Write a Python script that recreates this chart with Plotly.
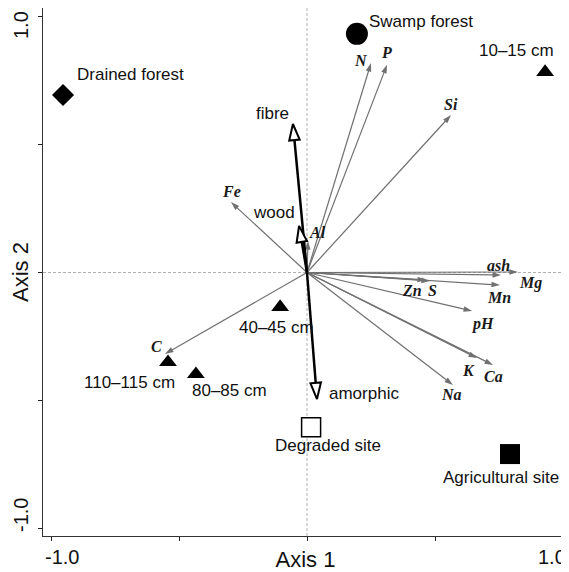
import plotly.graph_objects as go

# ---------------- data ----------------
site_names = ["Drained forest", "Swamp forest", "Degraded site", "Agricultural site"]
site_x = [-0.953, 0.195, 0.016, 0.793]
site_y = [0.693, 0.932, -0.604, -0.709]

depth_names = ["10–15 cm", "40–45 cm", "80–85 cm", "110–115 cm"]
depth_x = [0.930, -0.105, -0.434, -0.543]
depth_y = [0.783, -0.135, -0.397, -0.350]

peat_names = ["fibre", "wood", "amorphic"]
peat_x = [-0.055, -0.031, 0.039]
peat_y = [0.580, 0.182, -0.494]

chem_names = ["N", "P", "Si", "Al", "Fe", "C", "ash", "Mg", "Mn", "Zn", "S", "pH", "K", "Ca", "Na"]
chem_x = [0.250, 0.3125, 0.5625, 0.004, -0.297, -0.555, 0.824, 0.758, 0.754, 0.465, 0.480, 0.645, 0.664, 0.727, 0.570]
chem_y = [0.818, 0.811, 0.615, 0.123, 0.275, -0.318, 0.002, -0.010, -0.049, -0.029, -0.033, -0.150, -0.334, -0.361, -0.439]

axis_ticks = [-1.0, -0.5, 0.0, 0.5, 1.0]

# ---------------- styling / label placement ----------------
GRAY = "#707070"
SANS = "Liberation Sans, Arial, sans-serif"
SERIF = "Liberation Serif, Times New Roman, serif"

site_label_off = {  # (xshift, yshift, xanchor)
    "Drained forest": (12, 21, "left"),
    "Swamp forest": (10, 12, "left"),
    "Degraded site": (17, -18, "center"),
    "Agricultural site": (-9, -23, "center"),
}
depth_label_off = {
    "10–15 cm": (-29, 22, "center"),
    "40–45 cm": (-4, -20, "center"),
    "80–85 cm": (34, -16, "center"),
    "110–115 cm": (-38, -20, "center"),
}
peat_label_off = {
    "fibre": (-20, 11, "center"),
    "wood": (-25, 13, "center"),
    "amorphic": (10, 6, "left"),
}
chem_label_off = {
    "N": (-10, 3), "P": (-1, 12), "Si": (0, 11), "Al": (9, 9), "Fe": (1, 11),
    "C": (-8, 7), "ash": (-19, 7), "Mg": (29, -8), "Mn": (-1, -12), "Zn": (-14, -11),
    "S": (3, -10), "pH": (10, -13), "K": (-8, -12), "Ca": (0, -12), "Na": (-1, -10),
}

fig = go.Figure()

# gray (chemical) arrows
for name, cx, cy in zip(chem_names, chem_x, chem_y):
    fig.add_trace(go.Scatter(
        x=[0, cx], y=[0, cy], mode="lines+markers", name=name,
        line=dict(color=GRAY, width=1.2),
        marker=dict(symbol="arrow", size=[0, 9], angleref="previous", opacity=1,
                    color=GRAY, line=dict(width=0)),
        hoverinfo="skip", showlegend=False,
    ))

# black (peat composition) arrows with open heads
for name, px, py in zip(peat_names, peat_x, peat_y):
    fig.add_trace(go.Scatter(
        x=[0, px], y=[0, py], mode="lines+markers", name=name,
        line=dict(color="black", width=2.5),
        marker=dict(symbol="arrow", size=[0, 17], angleref="previous", opacity=1,
                    color="white", line=dict(color="black", width=2)),
        hoverinfo="skip", showlegend=False,
    ))

# sites
fig.add_trace(go.Scatter(
    x=site_x, y=site_y, mode="markers", name="sites",
    marker=dict(symbol=["diamond", "circle", "square", "square"],
                size=[17, 22, 19, 20], opacity=1,
                color=["black", "black", "white", "black"],
                line=dict(color="black", width=[0, 0, 1.5, 0])),
    showlegend=False,
))

# depths
fig.add_trace(go.Scatter(
    x=depth_x, y=depth_y, mode="markers", name="depths",
    marker=dict(symbol="triangle-up", size=15.5, color="black", opacity=1),
    showlegend=False,
))

ann = []
for names, xs, ys, offs in ((site_names, site_x, site_y, site_label_off),
                            (depth_names, depth_x, depth_y, depth_label_off),
                            (peat_names, peat_x, peat_y, peat_label_off)):
    for n, x, y in zip(names, xs, ys):
        dx, dy, xa = offs[n]
        ann.append(dict(x=x, y=y, text=n, showarrow=False, xshift=dx, yshift=dy,
                        xanchor=xa, yanchor="middle",
                        font=dict(family=SANS, size=17, color="#111111")))
for n, x, y in zip(chem_names, chem_x, chem_y):
    dx, dy = chem_label_off[n]
    ann.append(dict(x=x, y=y, text=n, showarrow=False, xshift=dx, yshift=dy,
                    xanchor="center", yanchor="middle",
                    font=dict(family=SERIF, size=16, color="#1a1a1a",
                              weight="bold", style="italic")))

# tick labels aligned to frame edges, as in the reference
tick_font = dict(family=SANS, size=20, color="#111111")
ann += [
    dict(xref="paper", yref="paper", x=0, y=0, text=f"{axis_ticks[0]:.1f}", showarrow=False,
         xanchor="left", yanchor="top", yshift=-8, font=tick_font),
    dict(xref="paper", yref="paper", x=1, y=0, text=f"{axis_ticks[-1]:.1f}", showarrow=False,
         xanchor="right", yanchor="top", yshift=-8, font=tick_font),
    dict(xref="paper", yref="paper", x=0, y=1, text=f"{axis_ticks[-1]:.1f}", showarrow=False,
         xanchor="right", yanchor="top", xshift=-10, yshift=-2, textangle=-90,
         borderpad=0, font=tick_font),
    dict(xref="paper", yref="paper", x=0, y=0, text=f"{axis_ticks[0]:.1f}", showarrow=False,
         xanchor="right", yanchor="bottom", xshift=-10, yshift=3, textangle=-90,
         borderpad=0, font=tick_font),
]

shapes = [
    dict(type="line", xref="x", yref="paper", x0=0, x1=0, y0=0, y1=1,
         line=dict(color="#b0b0b0", width=1, dash="3px,2px"), layer="below"),
    dict(type="line", xref="paper", yref="y", x0=0, x1=1, y0=0, y1=0,
         line=dict(color="#b0b0b0", width=1, dash="3px,2px"), layer="below"),
]

axis_common = dict(
    tickvals=axis_ticks, ticks="outside", ticklen=4, tickcolor="#222222", tickwidth=1,
    showticklabels=False, showgrid=False, zeroline=False,
    showline=True, linecolor="#333333", linewidth=1.2, mirror=True,
)

# The page body keeps its default 8 px margin, so the figure is 8 px smaller
# than the window and its plot area is placed 8 px further up/left.
fig.update_layout(
    width=561, height=564,
    margin=dict(l=35, r=1, t=0, b=36),
    paper_bgcolor="white", plot_bgcolor="white",
    xaxis=dict(range=[-1.03125, 1.0195],
               title=dict(text="Axis 1", font=dict(family=SANS, size=22, color="#111111"), standoff=11),
               **axis_common),
    yaxis=dict(range=[-1.029, 1.033],
               title=dict(text="Axis 2", font=dict(family=SANS, size=22, color="#111111"), standoff=14),
               **axis_common),
    annotations=ann, shapes=shapes,
)

fig.write_html("out.html")
